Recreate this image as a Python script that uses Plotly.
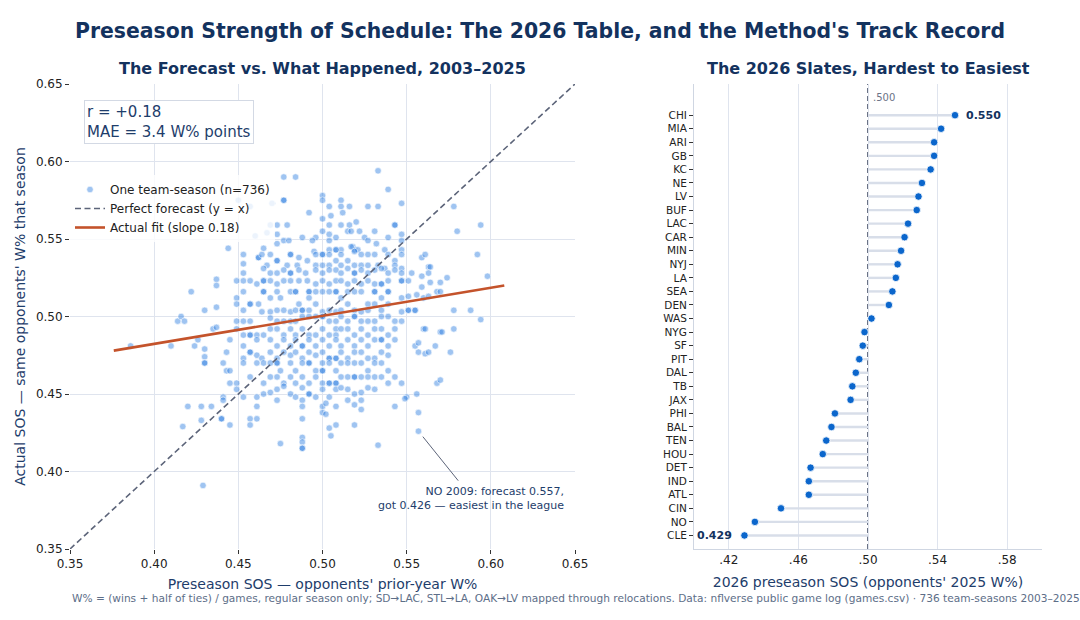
import plotly.graph_objects as go

# ---------------- Left panel data: (forecast SOS, actual SOS) per team-season -------------
season_points = [
    # upper tail
    (0.533, 0.594), (0.477, 0.590), (0.484, 0.590), (0.539, 0.582), (0.500, 0.578),
    (0.500, 0.575), (0.477, 0.575), (0.477, 0.575), (0.511, 0.575), (0.450, 0.575),
    (0.470, 0.573), (0.457, 0.571), (0.547, 0.573),
    (0.504, 0.571), (0.511, 0.571), (0.516, 0.571), (0.527, 0.571), (0.533, 0.571), (0.578, 0.571),
    (0.492, 0.567), (0.512, 0.567), (0.505, 0.565), (0.500, 0.563), (0.520, 0.561),
    (0.469, 0.559), (0.473, 0.559), (0.479, 0.559), (0.504, 0.559), (0.511, 0.559), (0.516, 0.559),
    (0.543, 0.559), (0.543, 0.559), (0.594, 0.559),
    (0.580, 0.555), (0.460, 0.552), (0.467, 0.554), (0.473, 0.553),
    (0.488, 0.551), (0.496, 0.551), (0.500, 0.555), (0.504, 0.553), (0.504, 0.549), (0.508, 0.551),
    (0.515, 0.555), (0.517, 0.555), (0.522, 0.555), (0.525, 0.551), (0.531, 0.555), (0.532, 0.547),
    (0.539, 0.551), (0.547, 0.553), (0.547, 0.549),
    (0.494, 0.549), (0.477, 0.549), (0.480, 0.549), (0.473, 0.547),
    (0.518, 0.545), (0.537, 0.543), (0.519, 0.543), (0.521, 0.543), (0.517, 0.545),
    (0.444, 0.544), (0.465, 0.544),
    (0.508, 0.543), (0.504, 0.543), (0.511, 0.543), (0.495, 0.542), (0.547, 0.543), (0.527, 0.549),
    # ~0.540
    (0.453, 0.540), (0.462, 0.538), (0.462, 0.538), (0.464, 0.540), (0.469, 0.540), (0.481, 0.540),
    (0.481, 0.540), (0.486, 0.538), (0.496, 0.540), (0.500, 0.540), (0.500, 0.540), (0.504, 0.540),
    (0.508, 0.543), (0.511, 0.540), (0.519, 0.542), (0.523, 0.540), (0.527, 0.540), (0.531, 0.540),
    (0.539, 0.540), (0.547, 0.540), (0.559, 0.538), (0.561, 0.540), (0.592, 0.540), (0.543, 0.536),
    # ~0.534
    (0.453, 0.534), (0.467, 0.533), (0.473, 0.536), (0.473, 0.536), (0.479, 0.533), (0.485, 0.533),
    (0.491, 0.536), (0.496, 0.533), (0.500, 0.533), (0.504, 0.533), (0.508, 0.536), (0.511, 0.533),
    (0.515, 0.536), (0.519, 0.533), (0.523, 0.533), (0.527, 0.533), (0.533, 0.533), (0.537, 0.531),
    (0.543, 0.533), (0.547, 0.531), (0.563, 0.532), (0.564, 0.532),
    # ~0.529
    (0.453, 0.528), (0.465, 0.531), (0.469, 0.528), (0.473, 0.528), (0.477, 0.530), (0.481, 0.528),
    (0.481, 0.528), (0.486, 0.530), (0.490, 0.528), (0.496, 0.530), (0.500, 0.528), (0.504, 0.530),
    (0.508, 0.530), (0.511, 0.528), (0.515, 0.531), (0.519, 0.528), (0.519, 0.528), (0.523, 0.530),
    (0.527, 0.528), (0.531, 0.530), (0.535, 0.531), (0.539, 0.528), (0.543, 0.530), (0.547, 0.528),
    (0.553, 0.528), (0.559, 0.526), (0.563, 0.528),
    # ~0.522
    (0.437, 0.524), (0.437, 0.520), (0.449, 0.523), (0.453, 0.523), (0.457, 0.523), (0.461, 0.521),
    (0.465, 0.523), (0.465, 0.523), (0.469, 0.523), (0.473, 0.521), (0.477, 0.523), (0.481, 0.523),
    (0.486, 0.523), (0.491, 0.523), (0.496, 0.521), (0.500, 0.523), (0.504, 0.521), (0.508, 0.523),
    (0.511, 0.523), (0.515, 0.521), (0.519, 0.523), (0.523, 0.521), (0.527, 0.523), (0.531, 0.521),
    (0.535, 0.521), (0.535, 0.521), (0.539, 0.523), (0.547, 0.523), (0.547, 0.523), (0.551, 0.523),
    (0.559, 0.519), (0.564, 0.522), (0.570, 0.522), (0.574, 0.525), (0.598, 0.526),
    # ~0.516 / 0.512 / 0.508
    (0.422, 0.516), (0.449, 0.512), (0.453, 0.516), (0.457, 0.508), (0.462, 0.508), (0.465, 0.516),
    (0.465, 0.516), (0.469, 0.512), (0.473, 0.516), (0.475, 0.512), (0.481, 0.516), (0.484, 0.516),
    (0.484, 0.516), (0.486, 0.508), (0.492, 0.516), (0.492, 0.516), (0.492, 0.512), (0.496, 0.516),
    (0.500, 0.516), (0.504, 0.516), (0.508, 0.516), (0.508, 0.516), (0.511, 0.512), (0.515, 0.516),
    (0.519, 0.516), (0.523, 0.516), (0.527, 0.508), (0.531, 0.516), (0.531, 0.516), (0.535, 0.512),
    (0.539, 0.516), (0.539, 0.516), (0.547, 0.512), (0.551, 0.513), (0.556, 0.514), (0.560, 0.512),
    (0.563, 0.513), (0.568, 0.516), (0.570, 0.516),
    # ~0.504
    (0.430, 0.504), (0.437, 0.506), (0.449, 0.508), (0.453, 0.504), (0.457, 0.508), (0.464, 0.503),
    (0.469, 0.503), (0.473, 0.504), (0.477, 0.504), (0.481, 0.503), (0.484, 0.504), (0.488, 0.504),
    (0.488, 0.504), (0.492, 0.504), (0.496, 0.508), (0.500, 0.503), (0.504, 0.504), (0.508, 0.503),
    (0.511, 0.504), (0.515, 0.508), (0.519, 0.504), (0.523, 0.503), (0.527, 0.504), (0.531, 0.508),
    (0.535, 0.504), (0.539, 0.508), (0.547, 0.503), (0.551, 0.504), (0.551, 0.504), (0.555, 0.504),
    (0.555, 0.504), (0.578, 0.504), (0.588, 0.504),
    # ~0.500 / 0.497
    (0.414, 0.497), (0.416, 0.500), (0.418, 0.497), (0.449, 0.497), (0.453, 0.497), (0.457, 0.497),
    (0.469, 0.499), (0.473, 0.497), (0.477, 0.497), (0.481, 0.497), (0.484, 0.497), (0.488, 0.500),
    (0.492, 0.500), (0.496, 0.500), (0.500, 0.500), (0.500, 0.500), (0.504, 0.497), (0.508, 0.497),
    (0.511, 0.500), (0.515, 0.497), (0.519, 0.500), (0.519, 0.500), (0.523, 0.497), (0.527, 0.497),
    (0.531, 0.497), (0.535, 0.500), (0.539, 0.500), (0.543, 0.497), (0.547, 0.497), (0.594, 0.498),
    # ~0.492 / 0.488
    (0.386, 0.481), (0.435, 0.492), (0.437, 0.493), (0.449, 0.492), (0.453, 0.488), (0.457, 0.488),
    (0.457, 0.488), (0.461, 0.488), (0.465, 0.488), (0.469, 0.492), (0.473, 0.492), (0.477, 0.488),
    (0.481, 0.492), (0.484, 0.488), (0.488, 0.492), (0.492, 0.488), (0.496, 0.488), (0.500, 0.492),
    (0.504, 0.488), (0.508, 0.492), (0.508, 0.488), (0.511, 0.492), (0.515, 0.492), (0.519, 0.488),
    (0.523, 0.492), (0.527, 0.488), (0.531, 0.492), (0.535, 0.492), (0.539, 0.488), (0.543, 0.492),
    (0.560, 0.492), (0.561, 0.492), (0.570, 0.490), (0.571, 0.490), (0.578, 0.492),
    # ~0.485 / 0.481
    (0.410, 0.481), (0.424, 0.481), (0.426, 0.485), (0.430, 0.479), (0.445, 0.485), (0.453, 0.481),
    (0.461, 0.485), (0.469, 0.485), (0.473, 0.481), (0.477, 0.485), (0.481, 0.481), (0.484, 0.485),
    (0.488, 0.481), (0.488, 0.481), (0.492, 0.485), (0.496, 0.481), (0.500, 0.485), (0.504, 0.481),
    (0.508, 0.485), (0.511, 0.481), (0.515, 0.485), (0.519, 0.481), (0.523, 0.485), (0.527, 0.481),
    (0.531, 0.485), (0.535, 0.485), (0.535, 0.485), (0.539, 0.481), (0.543, 0.485), (0.555, 0.481),
    (0.557, 0.483), (0.567, 0.481),
    # ~0.477 / 0.473
    (0.430, 0.474), (0.443, 0.477), (0.453, 0.473), (0.457, 0.477), (0.457, 0.477), (0.461, 0.475),
    (0.464, 0.473), (0.469, 0.477), (0.473, 0.473), (0.477, 0.477), (0.481, 0.475), (0.484, 0.477),
    (0.488, 0.473), (0.492, 0.477), (0.496, 0.475), (0.500, 0.477), (0.504, 0.473), (0.504, 0.473),
    (0.508, 0.473), (0.508, 0.473), (0.511, 0.477), (0.515, 0.473), (0.519, 0.477), (0.523, 0.477),
    (0.527, 0.473), (0.531, 0.473), (0.535, 0.477), (0.539, 0.475), (0.557, 0.477), (0.561, 0.476),
    (0.563, 0.477), (0.576, 0.477),
    # ~0.470 / 0.465
    (0.430, 0.470), (0.430, 0.470), (0.441, 0.470), (0.443, 0.465), (0.445, 0.465), (0.453, 0.470),
    (0.461, 0.470), (0.465, 0.470), (0.469, 0.470), (0.473, 0.470), (0.473, 0.470), (0.475, 0.465),
    (0.481, 0.470), (0.484, 0.465), (0.488, 0.470), (0.492, 0.470), (0.492, 0.470), (0.496, 0.465),
    (0.500, 0.470), (0.500, 0.465), (0.500, 0.465), (0.504, 0.470), (0.508, 0.465), (0.511, 0.470),
    (0.515, 0.470), (0.519, 0.470), (0.523, 0.470), (0.527, 0.465), (0.531, 0.470), (0.535, 0.470),
    (0.539, 0.465),
    # ~0.461 / 0.457
    (0.445, 0.457), (0.449, 0.457), (0.457, 0.461), (0.465, 0.457), (0.469, 0.461), (0.473, 0.461),
    (0.477, 0.457), (0.481, 0.461), (0.484, 0.457), (0.488, 0.461), (0.492, 0.457), (0.496, 0.461),
    (0.500, 0.457), (0.504, 0.457), (0.504, 0.457), (0.508, 0.457), (0.508, 0.457), (0.511, 0.461),
    (0.515, 0.461), (0.519, 0.461), (0.519, 0.461), (0.523, 0.461), (0.527, 0.461), (0.531, 0.461),
    (0.535, 0.461), (0.539, 0.457), (0.543, 0.461), (0.547, 0.457), (0.568, 0.457), (0.570, 0.459),
    # ~0.453 / 0.448
    (0.441, 0.448), (0.449, 0.453), (0.453, 0.448), (0.461, 0.448), (0.465, 0.450), (0.469, 0.451),
    (0.473, 0.453), (0.477, 0.455), (0.481, 0.450), (0.484, 0.448), (0.488, 0.454), (0.492, 0.450),
    (0.492, 0.450), (0.496, 0.448), (0.500, 0.453), (0.504, 0.448), (0.508, 0.453), (0.511, 0.454),
    (0.515, 0.453), (0.519, 0.450), (0.523, 0.451), (0.527, 0.454), (0.531, 0.453), (0.550, 0.448),
    (0.556, 0.450),
    # lower tail
    (0.441, 0.446), (0.420, 0.442), (0.428, 0.442), (0.434, 0.442), (0.461, 0.442), (0.473, 0.446),
    (0.488, 0.446), (0.488, 0.442), (0.500, 0.442), (0.502, 0.444), (0.508, 0.442), (0.515, 0.446),
    (0.519, 0.443), (0.523, 0.446), (0.523, 0.440), (0.543, 0.442), (0.549, 0.447), (0.557, 0.438),
    (0.428, 0.433), (0.440, 0.434), (0.440, 0.434), (0.445, 0.430), (0.457, 0.434), (0.457, 0.430),
    (0.461, 0.434), (0.417, 0.429), (0.500, 0.438), (0.502, 0.437), (0.488, 0.434), (0.504, 0.428),
    (0.508, 0.430), (0.519, 0.430), (0.505, 0.423), (0.488, 0.422), (0.488, 0.419), (0.488, 0.415),
    (0.488, 0.415), (0.475, 0.418), (0.533, 0.417), (0.557, 0.426), (0.429, 0.391),
]
forecast_sos = [p[0] for p in season_points]
actual_sos = [p[1] for p in season_points]

perfect_line = [0.35, 0.65]
fit_x = [0.376, 0.608]
fit_y = [0.478, 0.520]

# ---------------- Right panel data: 2026 preseason SOS ----------------
teams = ["CHI", "MIA", "ARI", "GB", "KC", "NE", "LV", "BUF", "LAC", "CAR", "MIN", "NYJ", "LA", "SEA", "DEN",
         "WAS", "NYG", "SF", "PIT", "DAL", "TB", "JAX", "PHI", "BAL", "TEN", "HOU", "DET", "IND", "ATL",
         "CIN", "NO", "CLE"]
sos_2026 = [0.550, 0.542, 0.538, 0.538, 0.536, 0.531, 0.529, 0.528, 0.523, 0.521, 0.519, 0.517, 0.516,
            0.514, 0.512, 0.502, 0.498, 0.497, 0.495, 0.493, 0.491, 0.490, 0.481, 0.479, 0.476, 0.474,
            0.467, 0.466, 0.466, 0.450, 0.435, 0.429]

NAVY = "#13325e"
AXIS_NAVY = "#1e3d6b"
GRID = "#dfe4ee"
FONT = "DejaVu Sans"

fig = go.Figure()

# Left panel traces
fig.add_trace(go.Scatter(
    x=forecast_sos, y=actual_sos, mode="markers", name="One team-season (n=736)",
    marker=dict(size=6.5, color="rgba(42,125,225,0.45)", line=dict(width=0.6, color="white")),
    xaxis="x", yaxis="y", hoverinfo="skip"))
fig.add_trace(go.Scatter(
    x=perfect_line, y=perfect_line, mode="lines", name="Perfect forecast (y = x)",
    line=dict(color="#5c6479", width=1.6, dash="6px,3.5px"), xaxis="x", yaxis="y"))
fig.add_trace(go.Scatter(
    x=fit_x, y=fit_y, mode="lines", name="Actual fit (slope 0.18)",
    line=dict(color="#c4532b", width=2.6), xaxis="x", yaxis="y"))

# Right panel: stems + dots
stem_x, stem_y = [], []
for t, v in zip(teams, sos_2026):
    stem_x += [0.5, v, None]
    stem_y += [t, t, None]
fig.add_trace(go.Scatter(x=stem_x, y=stem_y, mode="lines", line=dict(color="#d8dee9", width=2.4),
                         xaxis="x2", yaxis="y2", showlegend=False, hoverinfo="skip"))
fig.add_trace(go.Scatter(x=sos_2026, y=teams, mode="markers",
                         marker=dict(size=7.5, color="#0b66cc", line=dict(width=0.8, color="white")),
                         xaxis="x2", yaxis="y2", showlegend=False))

W, H = 1080, 620
ml, mr, mt, mb = 70, 38, 84, 71
pw = W - ml - mr
left_dom = [0, (575 - 70) / pw]
right_dom = [(694 - 70) / pw, 1]

fig.update_layout(
    width=W, height=H, margin=dict(l=ml, r=mr, t=mt, b=mb),
    paper_bgcolor="white", plot_bgcolor="white",
    font=dict(family=FONT, size=12, color="#222222"),
    title=dict(text="<b>Preseason Strength of Schedule: The 2026 Table, and the Method's Track Record</b>",
               x=0.5, xanchor="center", y=1 - 31 / H, yanchor="middle",
               font=dict(size=20.4, color=NAVY, family=FONT)),
    xaxis=dict(domain=left_dom, range=[0.35, 0.65], tickvals=[0.35, 0.40, 0.45, 0.50, 0.55, 0.60, 0.65],
               ticktext=["0.35", "0.40", "0.45", "0.50", "0.55", "0.60", "0.65"],
               showgrid=True, gridcolor=GRID, gridwidth=1, zeroline=False, showline=False,
               ticks="outside", ticklen=4, tickcolor="#333", tickfont=dict(size=12, color="#222"),
               title=dict(text="Preseason SOS — opponents' prior-year W%", standoff=8,
                          font=dict(size=14, color=AXIS_NAVY))),
    yaxis=dict(domain=[0, 1], range=[0.35, 0.65], tickvals=[0.35, 0.40, 0.45, 0.50, 0.55, 0.60, 0.65],
               ticktext=["0.35", "0.40", "0.45", "0.50", "0.55", "0.60", "0.65"],
               showgrid=True, gridcolor=GRID, gridwidth=1, zeroline=False, showline=False,
               ticks="outside", ticklen=4, tickcolor="#333", tickfont=dict(size=12, color="#222"),
               title=dict(text="Actual SOS — same opponents' W% that season", standoff=6,
                          font=dict(size=14, color=AXIS_NAVY))),
    xaxis2=dict(domain=right_dom, anchor="y2", range=[0.40, 0.60],
                tickvals=[0.42, 0.46, 0.50, 0.54, 0.58], ticktext=[".42", ".46", ".50", ".54", ".58"],
                showgrid=True, gridcolor=GRID, gridwidth=1, zeroline=False,
                showline=True, linecolor="#cfd6e2", linewidth=1, ticks="",
                tickfont=dict(size=12, color="#222"),
                title=dict(text="2026 preseason SOS (opponents' 2025 W%)", standoff=10,
                           font=dict(size=14, color=AXIS_NAVY))),
    yaxis2=dict(domain=[0, 1], anchor="x2", type="category", categoryorder="array", categoryarray=teams,
                range=[len(teams), -2.3], showgrid=False, zeroline=False,
                showline=True, linecolor="#cfd6e2", linewidth=1,
                ticks="outside", ticklen=4, tickcolor="#333", tickfont=dict(size=10.5, color="#222")),
    legend=dict(x=0.0, y=(549 - 175) / 465, xanchor="left", yanchor="top",
                bgcolor="rgba(255,255,255,0.8)", borderwidth=0,
                font=dict(size=12, color="#222"), tracegroupgap=0, itemwidth=30),
    showlegend=True,
)

# .500 reference line on right panel
fig.add_shape(type="line", xref="x2", yref="paper", x0=0.5, x1=0.5, y0=0, y1=1,
              line=dict(color="#6b7386", width=2, dash="5px,3px"), layer="below")

ann = []
# subplot titles
ann.append(dict(text="<b>The Forecast vs. What Happened, 2003–2025</b>", xref="paper", yref="paper",
                x=(left_dom[0] + left_dom[1]) / 2, y=(549 - 68) / 465, xanchor="center", yanchor="middle",
                showarrow=False, font=dict(size=16, color=NAVY)))
ann.append(dict(text="<b>The 2026 Slates, Hardest to Easiest</b>", xref="paper", yref="paper",
                x=(right_dom[0] + right_dom[1]) / 2, y=(549 - 68) / 465, xanchor="center", yanchor="middle",
                showarrow=False, font=dict(size=16, color=NAVY)))
# stats box
ann.append(dict(text="r = +0.18<br>MAE = 3.4 W% points", xref="x", yref="y", x=0.3585, y=0.6395,
                xanchor="left", yanchor="top", align="left", showarrow=False,
                font=dict(size=15, color=AXIS_NAVY), bgcolor="white", bordercolor="#d3d9e4",
                borderwidth=1, borderpad=2))
# NO 2009 callout
no_idx = season_points.index((0.557, 0.426))
ann.append(dict(text="", x=forecast_sos[no_idx], y=actual_sos[no_idx], xref="x", yref="y",
                showarrow=True, arrowhead=0, arrowwidth=1, arrowcolor="#5c6479",
                ax=41, ay=51, standoff=7))
ann.append(dict(text="NO 2009: forecast 0.557,<br>got 0.426 — easiest in the league",
                xref="x", yref="y", x=0.6447, y=0.3925, xanchor="right", yanchor="top", align="right",
                showarrow=False, font=dict(size=11, color=AXIS_NAVY)))
# right panel labels
ann.append(dict(text=".500", xref="x2", yref="y2", x=0.5, y=-1.3, xanchor="left", yanchor="middle",
                xshift=3, showarrow=False, font=dict(size=10, color="#6b7386")))
ann.append(dict(text="<b>%.3f</b>" % sos_2026[0], xref="x2", yref="y2", x=sos_2026[0], y=teams[0],
                xanchor="left", yanchor="middle", xshift=9, showarrow=False,
                font=dict(size=11, color=NAVY)))
ann.append(dict(text="<b>%.3f</b>" % sos_2026[-1], xref="x2", yref="y2", x=sos_2026[-1], y=teams[-1],
                xanchor="right", yanchor="middle", xshift=-10, showarrow=False,
                font=dict(size=11, color=NAVY)))
# footnote
ann.append(dict(text="W% = (wins + half of ties) / games, regular season only; SD→LAC, STL→LA, OAK→LV mapped "
                     "through relocations. Data: nflverse public game log (games.csv) · 736 team-seasons 2003–2025",
                xref="paper", yref="paper", x=0, y=(549 - 598) / 465, xanchor="left", yanchor="middle",
                showarrow=False, font=dict(size=10.6, color="#5d6e88")))
fig.update_layout(annotations=ann)

fig.write_html("out.html")
